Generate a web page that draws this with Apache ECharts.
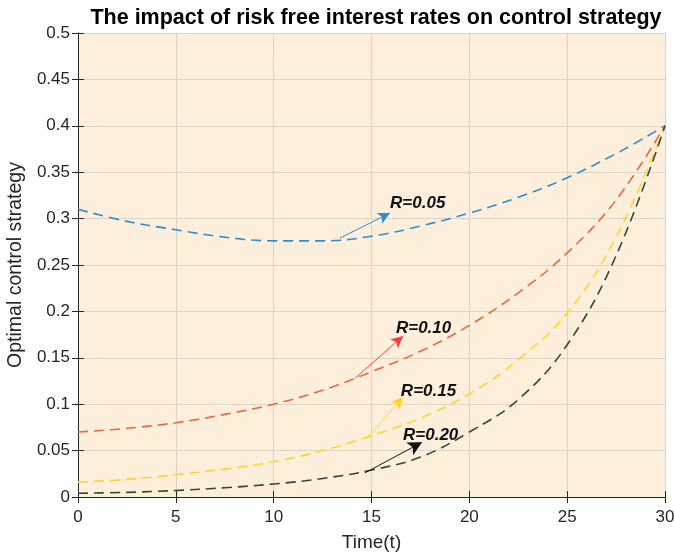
<!DOCTYPE html>
<html>
<head>
<meta charset="utf-8">
<script src="https://cdn.jsdelivr.net/npm/echarts@6/dist/echarts.min.js"></script>
<style>html,body{margin:0;padding:0;background:#fff}#c{width:674px;height:557px}</style>
</head>
<body>
<div id="c"></div>
<script>
const time = [0, 2.5, 5, 7.5, 10, 12.5, 15, 17.5, 20, 22.5, 25, 27.5, 30];
const r005 = [0.310, 0.297, 0.288, 0.280, 0.276, 0.276, 0.281, 0.292, 0.306, 0.323, 0.344, 0.370, 0.400];
const r010 = [0.070, 0.074, 0.080, 0.089, 0.100, 0.115, 0.135, 0.157, 0.185, 0.220, 0.263, 0.320, 0.400];
const r015 = [0.016, 0.019, 0.024, 0.030, 0.038, 0.050, 0.066, 0.085, 0.111, 0.148, 0.198, 0.280, 0.400];
const r020 = [0.004, 0.005, 0.007, 0.010, 0.014, 0.020, 0.029, 0.043, 0.070, 0.105, 0.164, 0.260, 0.400];

const seriesNames = ['R=0.05', 'R=0.10', 'R=0.15', 'R=0.20'];
const arrowStart = [[13.39, 0.279], [14.16, 0.128], [14.82, 0.0636], [14.67, 0.026]];
const arrowEnd = [[15.95, 0.306], [16.61, 0.1735], [16.61, 0.1078], [17.58, 0.059]];
const labelPos = [[15.95, 0.316], [16.25, 0.182], [16.5, 0.114], [16.61, 0.066]];

const lineColors = ['#2c8fd0', '#e8673c', '#ffd42a', '#2f4a36'];
const arrowColors = ['#2c8fd0', '#ff3b3b', '#ffd42a', '#111111'];
const arrowSizes = [[9, 12], [9, 12], [9, 12], [11, 14]];

const chart = echarts.init(document.getElementById('c'));
const allData = [r005, r010, r015, r020];
const axisColor = '#262626';
const font = 'Liberation Sans, Arial, sans-serif';

const series = allData.map((vals, i) => ({
  name: seriesNames[i],
  type: 'line',
  data: time.map((t, k) => [t, vals[k]]),
  smooth: 0.4,
  showSymbol: false,
  symbol: 'none',
  lineStyle: { color: lineColors[i], width: 1.6, type: [10, 6] },
  z: 3,
  markLine: {
    silent: true,
    symbol: ['none', 'arrow'],
    symbolSize: arrowSizes[i],
    label: { show: false },
    lineStyle: { color: arrowColors[i], width: 1, type: 'solid' },
    data: [[{ coord: arrowStart[i] }, { coord: arrowEnd[i] }]],
    animation: false
  },
  markPoint: {
    silent: true,
    symbol: 'circle',
    symbolSize: 0,
    data: [{ coord: labelPos[i] }],
    label: {
      show: true, position: 'right', distance: 0,
      formatter: seriesNames[i],
      fontStyle: 'italic', fontWeight: 'bold', fontSize: 17,
      fontFamily: font, color: '#111'
    },
    animation: false
  }
}));

chart.setOption({
  animation: false,
  backgroundColor: '#ffffff',
  title: {
    text: 'The impact of risk free interest rates on control strategy',
    left: 371, top: 2, textAlign: 'center',
    textStyle: { fontSize: 21.5, fontWeight: 'bold', color: '#000', fontFamily: font }
  },
  grid: { left: 78, right: 9, top: 33, bottom: 60, show: true, backgroundColor: '#fdefdb', borderWidth: 0, containLabel: false, outerBoundsMode: 'none' },
  xAxis: [{
    type: 'value', min: 0, max: 30, interval: 5,
    name: 'Time(t)', nameLocation: 'middle', nameGap: 36,
    nameTextStyle: { fontSize: 19, color: axisColor, fontFamily: font },
    axisLine: { show: true, lineStyle: { color: axisColor, width: 1 } },
    axisTick: { show: true, inside: true, length: 6, lineStyle: { color: axisColor } },
    axisLabel: { fontSize: 17, color: axisColor, fontFamily: font, margin: 12 },
    splitLine: { show: true, lineStyle: { color: '#ddd3c4', width: 1 } }
  }, {
    type: 'value', min: 0, max: 30, interval: 5, position: 'top',
    axisLine: { show: true, lineStyle: { color: axisColor, width: 1 } },
    axisTick: { show: true, inside: true, length: 6, lineStyle: { color: axisColor } },
    axisLabel: { show: false }, splitLine: { show: false }
  }],
  yAxis: [{
    type: 'value', min: 0, max: 0.5, interval: 0.05,
    name: 'Optimal control strategy', nameLocation: 'middle', nameGap: 48,
    nameTextStyle: { fontSize: 19.5, color: axisColor, fontFamily: font },
    axisLine: { show: true, lineStyle: { color: axisColor, width: 1 } },
    axisTick: { show: true, inside: true, length: 6, lineStyle: { color: axisColor } },
    axisLabel: { fontSize: 17, color: axisColor, fontFamily: font, margin: 8 },
    splitLine: { show: true, lineStyle: { color: '#ddd3c4', width: 1 } }
  }, {
    type: 'value', min: 0, max: 0.5, interval: 0.05, position: 'right',
    axisLine: { show: true, lineStyle: { color: axisColor, width: 1 } },
    axisTick: { show: true, inside: true, length: 6, lineStyle: { color: axisColor } },
    axisLabel: { show: false }, splitLine: { show: false }
  }],
  series: series
});
</script>
</body>
</html>
